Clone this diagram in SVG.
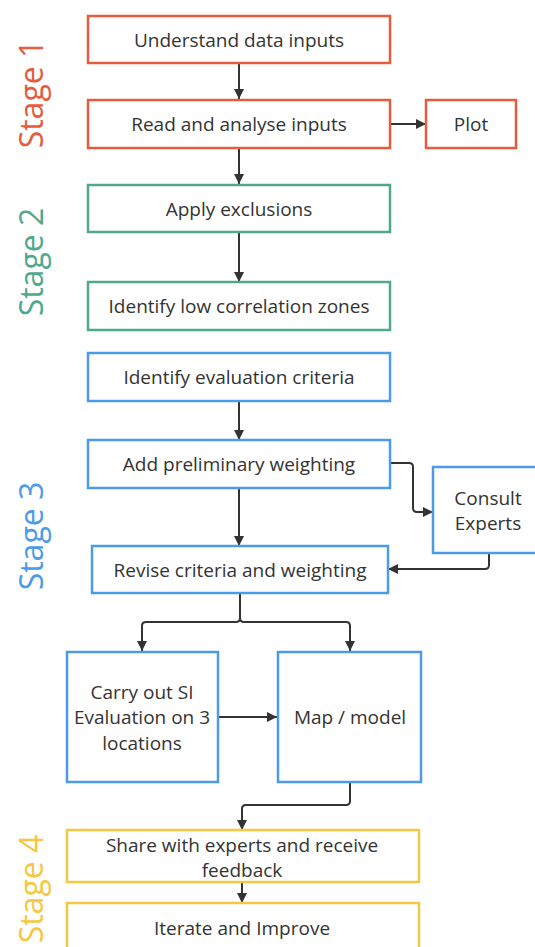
<svg xmlns="http://www.w3.org/2000/svg" width="535" height="947" viewBox="0 0 535 947">
<style>
  .box{fill:#fff;stroke-width:2.5}
  .s1{stroke:#E55B3C}.s2{stroke:#4FA88B}.s3{stroke:#4C9BEA}.s4{stroke:#F4C842}
  .t{font-family:"Open Sans","Liberation Sans",sans-serif;font-size:19px;fill:#333;text-anchor:middle}
  .stage{font-family:"Open Sans","Liberation Sans",sans-serif;font-size:32px;text-anchor:middle}
  .c{fill:none;stroke:#333;stroke-width:2;marker-end:url(#arr)}
</style>
<defs>
  <marker id="arr" markerUnits="userSpaceOnUse" markerWidth="12" markerHeight="12" refX="10" refY="6" orient="auto">
    <path d="M0,1 L10,6 L0,11 z" fill="#333"/>
  </marker>
</defs>
<g id="stage-labels">
  <text class="stage" fill="#E55B3C" transform="translate(43,94) rotate(-90)">Stage 1</text>
  <text class="stage" fill="#4FA88B" transform="translate(43,262) rotate(-90)">Stage 2</text>
  <text class="stage" fill="#4C9BEA" transform="translate(43,536) rotate(-90)">Stage 3</text>
  <text class="stage" fill="#F4C842" transform="translate(43,889) rotate(-90)">Stage 4</text>
</g>
<g id="connectors">
  <path class="c" d="M239,63 V99"/>
  <path class="c" d="M390,124 H426"/>
  <path class="c" d="M239,148 V184"/>
  <path class="c" d="M239,232 V282"/>
  <path class="c" d="M239,401 V440"/>
  <path class="c" d="M390,463 H409 Q413,463 413,467 V508 Q413,512 417,512 H433"/>
  <path class="c" d="M239,488 V546"/>
  <path class="c" d="M489,553 V565 Q489,569 485,569 H388"/>
  <path class="c" d="M240,594 V618 Q240,622 236,622 H146 Q142,622 142,626 V651"/>
  <path class="c" d="M240,618 Q240,622 244,622 H346 Q350,622 350,626 V651"/>
  <path class="c" d="M218,717 H277"/>
  <path class="c" d="M350,782 V801 Q350,805 346,805 H246 Q242,805 242,809 V830"/>
  <path class="c" d="M242,882 V903"/>
</g>
<g id="understand">
  <rect class="box s1" x="88" y="16" width="302" height="47"/>
  <text class="t" x="239" y="47">Understand data inputs</text>
</g>
<g id="read">
  <rect class="box s1" x="88" y="100" width="302" height="48"/>
  <text class="t" x="239" y="131">Read and analyse inputs</text>
</g>
<g id="plot">
  <rect class="box s1" x="426" y="100" width="90" height="48"/>
  <text class="t" x="471" y="131">Plot</text>
</g>
<g id="apply">
  <rect class="box s2" x="88" y="185" width="302" height="47"/>
  <text class="t" x="239" y="216">Apply exclusions</text>
</g>
<g id="low-corr">
  <rect class="box s2" x="88" y="282" width="302" height="48"/>
  <text class="t" x="239" y="313">Identify low correlation zones</text>
</g>
<g id="eval-criteria">
  <rect class="box s3" x="88" y="353" width="302" height="48"/>
  <text class="t" x="239" y="384">Identify evaluation criteria</text>
</g>
<g id="prelim">
  <rect class="box s3" x="88" y="440" width="302" height="48"/>
  <text class="t" x="239" y="471">Add preliminary weighting</text>
</g>
<g id="consult">
  <rect class="box s3" x="433" y="467" width="110" height="86"/>
  <text class="t" x="488" y="505">Consult</text>
  <text class="t" x="488" y="530">Experts</text>
</g>
<g id="revise">
  <rect class="box s3" x="92" y="546" width="296" height="47"/>
  <text class="t" x="240" y="577">Revise criteria and weighting</text>
</g>
<g id="carry">
  <rect class="box s3" x="67" y="652" width="151" height="130"/>
  <text class="t" x="142" y="699">Carry out SI</text>
  <text class="t" x="142" y="724">Evaluation on 3</text>
  <text class="t" x="142" y="750">locations</text>
</g>
<g id="map">
  <rect class="box s3" x="278" y="652" width="143" height="130"/>
  <text class="t" x="350" y="724">Map / model</text>
</g>
<g id="share">
  <rect class="box s4" x="67" y="830" width="352" height="52"/>
  <text class="t" x="242" y="852">Share with experts and receive</text>
  <text class="t" x="242" y="877">feedback</text>
</g>
<g id="iterate">
  <rect class="box s4" x="67" y="903" width="352" height="52"/>
  <text class="t" x="242" y="935">Iterate and Improve</text>
</g>
</svg>
